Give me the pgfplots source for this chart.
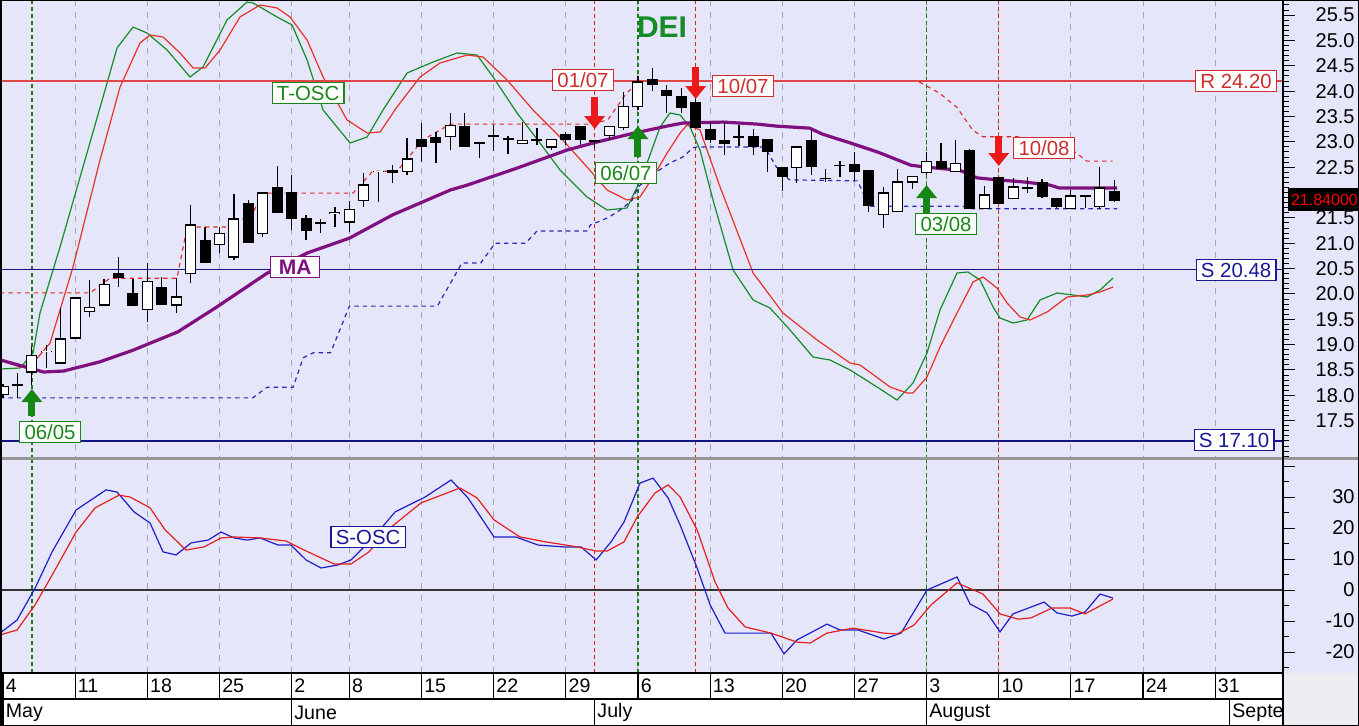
\documentclass[border=0pt]{standalone}
\usepackage{pgfplots}
\pgfplotsset{compat=1.18}
\usepackage{pgfplotstable}
\usepackage{fontspec}
\setmainfont{Liberation Sans}
\usetikzlibrary{arrows.meta}

\definecolor{bg}{RGB}{230,230,250}
\definecolor{gridc}{RGB}{165,165,180}
\definecolor{oscg}{RGB}{20,140,40}
\definecolor{oscr}{RGB}{230,50,40}
\definecolor{mac}{RGB}{128,16,128}
\definecolor{rline}{RGB}{225,70,70}
\definecolor{sline}{RGB}{20,20,130}
\definecolor{dblue}{RGB}{40,40,180}
\definecolor{dred}{RGB}{225,40,40}
\definecolor{sb}{RGB}{30,30,200}
\definecolor{sr}{RGB}{230,30,30}
\definecolor{sigg}{RGB}{30,120,30}
\definecolor{sigr}{RGB}{225,30,30}
\definecolor{lblg}{RGB}{25,135,25}
\definecolor{lblr}{RGB}{205,45,45}
\definecolor{lblb}{RGB}{25,25,150}
\definecolor{arrr}{RGB}{235,25,25}
\definecolor{arrg}{RGB}{20,135,20}
\definecolor{sepc}{RGB}{150,150,150}
\definecolor{stripc}{RGB}{238,238,242}

\pgfplotstableread{
i o h l c
0 18.01 18.22 17.95 18.18
1 18.21 18.44 17.95 18.20
2 18.46 18.95 18.20 18.78
3 18.86 18.99 18.54 18.87
4 18.64 19.72 18.64 19.11
5 19.13 19.92 19.13 19.92
6 19.66 20.27 19.55 19.74
7 19.78 20.29 19.78 20.18
8 20.41 20.73 20.14 20.33
9 20.00 20.29 19.78 19.78
10 19.70 20.61 19.45 20.24
11 20.12 20.33 19.80 19.80
12 19.78 20.31 19.62 19.94
13 20.41 21.75 20.22 21.36
14 21.06 21.32 20.63 20.63
15 20.97 21.32 20.81 21.20
16 20.73 21.97 20.67 21.48
17 21.79 21.85 21.02 21.02
18 21.20 22.01 21.12 21.99
19 22.09 22.52 21.60 21.60
20 21.99 22.35 21.26 21.50
21 21.48 21.56 21.06 21.26
22 21.41 21.48 21.20 21.40
23 21.59 21.72 21.32 21.60
24 21.42 21.83 21.22 21.66
25 21.85 22.39 21.71 22.15
26 22.41 22.42 21.81 22.42
27 22.44 22.54 22.19 22.39
28 22.42 23.08 22.35 22.66
29 23.04 23.37 22.60 22.92
30 23.08 23.19 22.58 22.98
31 23.10 23.57 22.84 23.33
32 23.31 23.57 22.92 22.92
33 22.98 22.98 22.68 22.97
34 23.12 23.33 22.82 23.11
35 23.06 23.12 22.76 23.05
36 22.96 23.39 22.96 23.02
37 23.04 23.27 22.94 23.03
38 22.90 23.04 22.84 23.04
39 23.14 23.19 22.94 23.04
40 23.31 23.31 22.94 23.04
41 23.02 23.02 22.88 23.01
42 23.13 23.31 23.04 23.31
43 23.29 23.98 23.23 23.69
44 23.69 24.30 23.63 24.18
45 24.22 24.46 24.00 24.14
46 24.02 24.12 23.57 23.92
47 23.90 24.06 23.57 23.67
48 23.77 23.86 23.27 23.29
49 23.25 23.39 22.98 23.04
50 23.02 23.39 22.74 22.96
51 23.10 23.33 22.92 23.09
52 23.10 23.25 22.74 22.92
53 23.04 23.04 22.40 22.82
54 22.50 22.50 22.03 22.31
55 22.50 22.90 22.19 22.90
56 23.02 23.23 22.35 22.52
57 22.28 22.46 22.21 22.27
58 22.54 22.62 22.31 22.53
59 22.56 22.80 22.23 22.41
60 22.44 22.44 21.62 21.75
61 21.56 22.11 21.30 21.99
62 21.62 22.46 21.62 22.21
63 22.21 22.31 22.07 22.31
64 22.39 22.80 22.35 22.62
65 22.62 22.98 22.48 22.48
66 22.41 23.04 22.41 22.58
67 22.82 22.86 21.68 21.68
68 21.68 22.13 21.68 21.95
69 22.29 22.29 21.79 21.79
70 21.89 22.29 21.89 22.11
71 22.10 22.31 21.99 22.09
72 22.19 22.27 21.89 21.93
73 21.89 21.89 21.69 21.73
74 21.69 22.05 21.69 21.93
75 21.94 21.94 21.69 21.93
76 21.73 22.50 21.68 22.09
77 22.01 22.25 21.81 21.84
}\candles

\pgfplotstableread{
x y
-0.21 18.70
2.8 18.46
4.2 18.48
6.7 18.66
9.0 18.89
12.1 19.25
14.8 19.74
18.3 20.41
21.1 20.81
24.0 21.10
27.0 21.56
31.0 22.05
32.2 22.15
35.6 22.48
39.1 22.84
41.2 23.00
43.7 23.17
46.0 23.31
47.1 23.37
49.9 23.39
52.25 23.35
53.6 23.31
55.9 23.27
56.8 23.15
58.7 22.98
60.6 22.80
62.9 22.54
64.0 22.50
66.3 22.44
67.5 22.29
68.9 22.25
70.7 22.21
72.5 22.15
73.2 22.09
77.2 22.09
}\ma

\pgfplotstableread{
x y
-0.21 20.02
6.03 20.02
7.4 20.31
12.06 20.31
12.75 21.32
15.7 21.32
16.0 21.48
17.1 21.48
18.0 21.99
24.26 21.99
25.4 22.35
25.6 22.42
27.3 22.42
29.1 23.04
31.0 23.35
40.7 23.35
41.9 23.43
43.2 23.96
44.1 24.18
}\resA

\pgfplotstableread{
x y
63.5 24.18
64.9 23.96
66.1 23.68
67.2 23.23
67.9 23.10
70.3 23.10
74.1 22.84
75.1 22.62
76.9 22.62
}\resB

\pgfplotstableread{
x y
-0.21 17.95
17.3 17.95
18.3 18.16
20.1 18.16
20.8 18.74
21.5 18.84
22.7 18.84
24.0 19.76
30.1 19.76
31.8 20.61
33.1 20.61
34.1 21.00
36.2 21.00
37.0 21.24
40.5 21.24
40.7 21.36
41.9 21.50
42.8 21.66
43.6 21.85
44.0 22.11
45.3 22.41
46.2 22.58
47.1 22.70
47.8 22.88
48.1 22.90
52.7 22.90
52.9 22.84
53.6 22.50
54.5 22.25
59.2 22.23
59.6 22.00
60.0 21.73
66.5 21.73
67.2 21.68
77.2 21.68
}\sup

% T-OSC (own scale: screen rows, 0 = top of panel)
\pgfplotstableread{
x y
-0.21 369
1.18 368
2.08 353
2.56 313
3.95 247
5.54 167
7.21 83
7.90 48
9.01 27
9.98 33
11.37 50
12.96 77
13.86 67
15.52 20
16.91 2
17.33 3
18.99 17
20.03 25
21.07 60
22.18 110
24.05 143
25.23 137
26.33 110
28.0 73
29.80 62
31.46 53
32.85 55
33.96 77
35.62 113
37.21 143
38.60 170
40.47 197
41.86 210
43.24 208
43.94 187
44.63 163
45.53 127
46.22 113
46.92 115
47.61 127
48.30 150
49.20 200
50.59 270
51.98 300
53.15 308
54.54 330
56.13 357
57.31 360
58.70 370
60.57 387
61.95 400
63.06 383
64.03 353
64.93 310
66.11 273
66.87 272
67.71 280
68.61 307
69.09 318
69.99 323
70.96 320
71.86 300
73.04 293
74.15 295
75.12 297
76.02 290
76.92 278
}\toscg

\pgfplotstableread{
x y
-0.21 360
1.18 367
2.08 363
3.26 343
4.85 267
6.72 160
8.11 87
9.49 43
10.19 35
11.09 37
12.27 53
13.17 68
14.0 68
15.04 50
16.42 17
17.81 5
18.99 8
19.89 17
21.07 40
22.18 77
23.84 120
25.23 133
26.13 132
27.30 107
28.90 77
30.28 63
32.16 55
33.26 57
34.93 80
36.73 110
38.60 137
40.47 167
41.86 190
43.24 200
44.14 197
45.05 177
46.02 153
46.92 133
47.40 125
48.30 130
49.69 187
51.98 273
54.05 313
56.41 340
58.70 363
59.39 365
61.47 387
62.65 393
63.06 393
64.03 377
64.93 347
66.11 313
67.22 282
67.91 277
68.88 288
69.58 303
70.48 317
71.17 320
72.35 312
73.74 297
75.12 295
76.02 292
76.92 287
}\toscr

\pgfplotstableread{
x y
-0.21 -13.9
0.97 -9.7
2.22 0.6
3.40 12.3
5.06 25.8
7.14 32.3
7.90 31.6
9.08 25.2
10.19 21.6
11.09 12.3
11.99 11.3
13.03 15.2
14.21 16.1
15.11 18.7
16.01 16.8
16.91 16.1
17.81 16.8
19.06 14.5
19.96 14.5
21.00 9.7
22.04 7.1
23.22 8.1
24.12 9.7
25.64 16.8
27.17 25.2
29.25 30.0
31.05 35.5
32.22 29.7
34.03 17.1
35.55 17.1
37.08 14.5
38.88 13.9
40.06 13.9
41.10 9.7
42.13 15.5
43.03 21.9
44.14 34.5
45.05 36.1
46.09 29.7
46.92 21.0
48.10 7.1
49.00 -4.8
50.03 -13.9
51.56 -13.9
53.22 -13.9
54.12 -20.6
55.02 -16.1
57.10 -11.0
58.00 -12.9
59.25 -12.9
61.05 -15.8
62.23 -13.9
64.03 0.0
66.11 4.2
67.01 -4.5
68.19 -7.4
69.09 -13.5
69.99 -7.7
72.14 -3.9
73.04 -7.4
74.08 -8.4
74.98 -7.1
76.02 -1.3
76.92 -2.6
}\soscb

\pgfplotstableread{
x y
-0.21 -14.5
0.97 -12.9
2.22 -4.8
3.40 4.8
5.06 18.7
6.38 26.5
8.04 30.6
8.80 30.0
10.19 26.5
11.23 19.4
12.68 12.9
13.93 13.9
15.11 16.8
16.01 17.1
17.81 16.8
19.61 15.8
20.86 12.9
22.94 8.4
24.12 8.4
25.36 12.3
26.82 20.0
28.97 28.1
31.67 32.9
32.85 29.7
34.03 22.6
35.83 17.1
37.63 15.5
39.43 14.2
41.10 12.6
41.86 12.6
43.03 15.5
43.94 23.5
45.18 31.3
46.09 33.9
46.92 30.0
48.10 19.4
49.34 2.6
50.24 -5.8
51.42 -11.9
53.22 -13.9
55.02 -16.8
55.93 -17.1
57.10 -13.9
58.90 -12.3
61.05 -13.9
61.95 -14.2
63.13 -11.3
64.31 -4.8
66.11 2.3
67.91 -1.3
69.09 -7.7
70.34 -9.4
71.24 -9.0
72.69 -5.8
73.94 -5.8
74.98 -7.7
76.92 -2.9
}\soscr

\pgfplotsset{
  panel/.style={scale only axis, width=641.5pt, xmin=-0.21, xmax=88.7, anchor=north west,
    axis line style={draw=none}, xtick style={draw=none}},
  weekgrid/.style={xtick={5,10,15,20,24,29,34,39,44,49,54,59,64,69,74,79,84}, xticklabels={},
    xmajorgrids, x grid style={gridc, line width=0.5pt, dash pattern=on 3pt off 3pt}},
  sig/.style={line width=0.7pt, dash pattern=on 2pt off 1.5pt, forget plot},
  rightticks/.style={ytick pos=right, yticklabel pos=right, tick align=outside,
    major tick length=6pt, minor tick length=3pt,
    ytick style={black, line width=0.5pt}, minor tick style={black, line width=0.5pt},
    /pgf/number format/assume math mode=true,
    yticklabel style={font=\fontsize{10}{11}\selectfont, anchor=east, xshift=30pt, inner sep=0pt}},
  candle/.style n args={2}{draw=none, mark=none, forget plot,
    error bars/.cd, y dir=plus, y explicit, error mark=none,
    error bar style={draw=#1, solid, line width=#2}},
}
\tikzset{
  lbl/.style={draw=#1, fill=white, text=#1, line width=0.6pt, inner xsep=2.4pt, inner ysep=0pt,
    minimum height=10.5pt, font=\fontsize{10.2}{12}\selectfont},
  arr/.style={line width=3.5pt, -{Triangle[width=10pt,length=6.5pt]}},
}

\begin{document}
\begin{tikzpicture}
\path[use as bounding box] (0,0) rectangle (679.5pt,-363pt);
\fill[bg] (0,0) rectangle (679.5pt,-336.5pt);
\fill[white] (0,-336.5pt) rectangle (641.5pt,-363pt);
\fill[stripc] (641.5pt,-336.5pt) rectangle (679.5pt,-363pt);

% ---- layer A: grid, signal lines, T-OSC (own scale)
\begin{axis}[panel, weekgrid, at={(0pt,0pt)}, height=229pt, ymin=0, ymax=458, y dir=reverse, ytick=\empty]
\addplot[sig, sigg] coordinates {(2,0) (2,458)};
\addplot[sig, sigg] coordinates {(44,0) (44,458)};
\addplot[sig, sigg] coordinates {(64,0) (64,458)};
\addplot[sig, sigr] coordinates {(41,0) (41,458)};
\addplot[sig, sigr] coordinates {(48,0) (48,458)};
\addplot[sig, sigr] coordinates {(69,0) (69,458)};
\addplot[oscg, line width=0.6pt] table[x=x,y=y]{\toscg};
\addplot[oscr, line width=0.6pt] table[x=x,y=y]{\toscr};
\end{axis}

% ---- layer B: price
\begin{axis}[panel, rightticks, at={(0pt,0pt)}, height=229pt, ymin=16.764, ymax=25.798,
  xtick=\empty, ytick={17.5,18,18.5,19,19.5,20,20.5,21,21.5,22.5,23,23.5,24,24.5,25,25.5},
  extra y ticks={22}, extra y tick labels={},
  minor ytick={16.8,16.9,...,25.75}, scaled y ticks=false,
  yticklabel style={/pgf/number format/fixed, /pgf/number format/fixed zerofill, /pgf/number format/precision=1}]
\addplot[rline, line width=0.6pt] coordinates {(-0.21,24.20) (88.7,24.20)};
\addplot[sline, line width=0.7pt] coordinates {(-0.21,20.48) (88.7,20.48)};
\addplot[sline, line width=0.7pt] coordinates {(-0.21,17.10) (88.7,17.10)};
\addplot[dred, line width=0.55pt, dash pattern=on 2.2pt off 2pt] table[x=x,y=y]{\resA};
\addplot[dred, line width=0.55pt, dash pattern=on 2.2pt off 2pt] table[x=x,y=y]{\resB};
\addplot[dblue, line width=0.6pt, dash pattern=on 2.2pt off 2pt] table[x=x,y=y]{\sup};
\addplot[mac, line width=1.6pt] table[x=x,y=y]{\ma};
% wicks
\addplot[candle={black}{0.6pt}]
  table[x=i, y=l, y error plus expr={\thisrow{h}-\thisrow{l}}]{\candles};
% bodies (outline / filled)
\addplot[candle={black}{5.5pt}]
  table[x=i, y expr={min(\thisrow{o},\thisrow{c})-0.012}, y error plus expr={abs(\thisrow{c}-\thisrow{o})+0.024}]{\candles};
% rising bodies hollow
\addplot[candle={white}{4.5pt}]
  table[x=i, y expr={\thisrow{c}>\thisrow{o} ? \thisrow{o}+0.012 : nan}, y error plus expr={\thisrow{c}-\thisrow{o}-0.024}]{\candles};
\end{axis}

% ---- layer C: annotations
\begin{axis}[panel, at={(0pt,0pt)}, height=229pt, ymin=0, ymax=458, y dir=reverse, hide axis, clip=false]
\node[text=oscg, font=\bfseries\fontsize{15}{17}\selectfont] at (axis cs:45.67,27) {DEI};
\node[lbl=lblg] at (axis cs:21.14,93) {T-OSC};
\node[lbl=mac, font=\bfseries\fontsize{10.5}{12}\selectfont, inner xsep=4pt] at (axis cs:20.24,267) {MA};
\node[lbl=lblr] at (axis cs:40.19,80) {01/07};
\node[lbl=lblr] at (axis cs:51.28,86) {10/07};
\node[lbl=lblg] at (axis cs:43.17,173) {06/07};
\node[lbl=lblg] at (axis cs:3.26,432) {06/05};
\node[lbl=lblg] at (axis cs:65.35,224) {03/08};
\node[lbl=lblr] at (axis cs:72.14,148) {10/08};
\node[lbl=lblr] at (axis cs:85.45,81) {R 24.20};
\node[lbl=lblb] at (axis cs:85.45,270) {S 20.48};
\node[lbl=lblb] at (axis cs:85.31,440) {S 17.10};
\draw[arr, arrr] (axis cs:41,97) -- (axis cs:41,129);
\draw[arr, arrr] (axis cs:48,67) -- (axis cs:48,99);
\draw[arr, arrr] (axis cs:69,136) -- (axis cs:69,166);
\draw[arr, arrg] (axis cs:44,157) -- (axis cs:44,126);
\draw[arr, arrg] (axis cs:2,416) -- (axis cs:2,389);
\draw[arr, arrg] (axis cs:64,213) -- (axis cs:64,185);
\node[fill=black, text=red, anchor=west, minimum height=11.5pt, minimum width=36pt, inner xsep=0.8pt, inner ysep=0pt,
  font=\fontsize{8}{10}\selectfont] at (axis cs:89.05,199.5) {21.84000};
\end{axis}

% ---- lower panel: S-OSC
\begin{axis}[panel, weekgrid, rightticks, at={(0pt,-230pt)}, height=106.5pt, ymin=-26.77, ymax=41.94,
  ytick={-20,-10,...,30}, minor ytick={-25,-15,...,35}, extra y ticks={40}, extra y tick labels={}]
\addplot[sig, sigg] coordinates {(2,-26.77) (2,41.94)};
\addplot[sig, sigg] coordinates {(44,-26.77) (44,41.94)};
\addplot[sig, sigg] coordinates {(64,-26.77) (64,41.94)};
\addplot[sig, sigr] coordinates {(41,-26.77) (41,41.94)};
\addplot[sig, sigr] coordinates {(48,-26.77) (48,41.94)};
\addplot[sig, sigr] coordinates {(69,-26.77) (69,41.94)};
\addplot[black!80, line width=1pt] coordinates {(-0.21,0) (88.7,0)};
\addplot[sb, line width=0.6pt] table[x=x,y=y]{\soscb};
\addplot[sr, line width=0.6pt] table[x=x,y=y]{\soscr};
\node[lbl=lblb] at (axis cs:25.3,17.1) {S-OSC};
\end{axis}

% ---- date strip: days
\begin{axis}[scale only axis, width=641.5pt, height=13pt, at={(0pt,-336.5pt)}, anchor=north west,
  xmin=-0.21, xmax=88.7, ymin=0, ymax=1, axis line style={draw=none}, ytick=\empty,
  xtick={0,5,10,15,20,24,29,34,39,44,49,54,59,64,69,74,79,84},
  xticklabels={4,11,18,25,2,8,15,22,29,6,13,20,27,3,10,17,24,31},
  xmajorgrids, x grid style={black, line width=0.6pt, solid}, major tick length=0pt, xtick style={draw=none},
  xticklabel style={anchor=west, yshift=6.5pt, inner sep=1.2pt, font=\fontsize{9.8}{11}\selectfont}]
\end{axis}
% ---- date strip: months
\begin{axis}[scale only axis, width=641.5pt, height=13.5pt, at={(0pt,-349.5pt)}, anchor=north west,
  xmin=-0.21, xmax=88.7, ymin=0, ymax=1, axis line style={draw=none}, ytick=\empty,
  xtick={0,20,41,64,85}, xticklabels={May,June,July,August,Septe},
  xmajorgrids, x grid style={black, line width=0.6pt, solid}, major tick length=0pt, xtick style={draw=none},
  xticklabel style={anchor=west, yshift=6.75pt, inner sep=1.2pt, font=\fontsize{9.8}{11}\selectfont}]
\end{axis}

\draw[sepc, line width=1.5pt] (0,-229.5pt) -- (679.5pt,-229.5pt);
\draw[black, line width=1pt] (641.5pt,0) -- (641.5pt,-363pt);
\draw[black, line width=1pt] (0,-336.5pt) -- (641.5pt,-336.5pt);
\draw[black, line width=0.6pt] (0,-349.5pt) -- (641.5pt,-349.5pt);
\draw[black, line width=1pt] (0.25pt,-0.25pt) rectangle (679.25pt,-362.75pt);
\end{tikzpicture}
\end{document}
